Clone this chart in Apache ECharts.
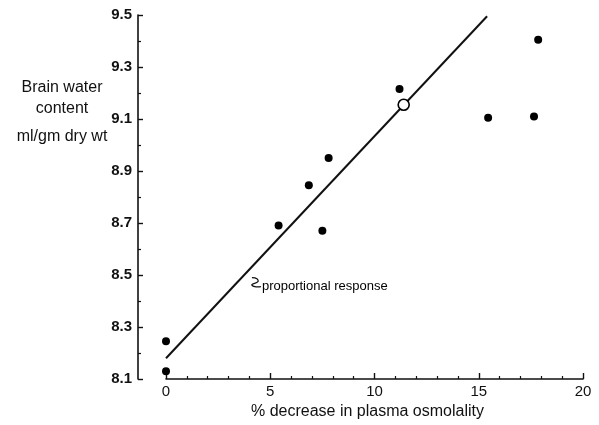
<!DOCTYPE html>
<html>
<head>
<meta charset="utf-8">
<script src="https://cdn.jsdelivr.net/npm/echarts@6/dist/echarts.min.js"></script>
<style>html,body{margin:0;padding:0;background:#fff;}#c{width:599px;height:425px;}</style>
</head>
<body>
<div id="c"></div>
<script>
// Data
const observed = [
  [0, 8.13], [0, 8.245], [5.4, 8.69], [7.5, 8.67], [6.85, 8.845],
  [7.8, 8.95], [11.2, 9.215], [15.45, 9.105], [17.65, 9.11], [17.85, 9.405]
];
const openPoint = [[11.4, 9.155]];
const proportionalLine = [[0, 8.18], [15.4, 9.495]];
const xTicks = [0, 5, 10, 15, 20];
const yTicks = [8.1, 8.3, 8.5, 8.7, 8.9, 9.1, 9.3, 9.5];
const yTitleLines = ['Brain water', 'content', 'ml/gm dry wt'];
const xTitle = '% decrease in plasma osmolality';
const annotation = { x: 4.6, y: 8.455, text: 'proportional response' };

const font = '"Liberation Sans", Arial, sans-serif';
const chart = echarts.init(document.getElementById('c'), null, { renderer: 'canvas' });

const option = {
  backgroundColor: '#fff',
  animation: false,
  grid: { left: 166, right: 16, top: 15, bottom: 46 },
  xAxis: {
    type: 'value', min: xTicks[0], max: xTicks[xTicks.length - 1], interval: 5,
    name: xTitle, nameLocation: 'middle', nameGap: 24,
    nameTextStyle: { fontFamily: font, fontSize: 16, color: '#111', padding: [0, 14, 0, 0] },
    axisLine: { show: true, onZero: false, lineStyle: { color: '#111', width: 1.6 } },
    axisTick: { show: true, inside: true, length: 6, lineStyle: { color: '#111', width: 1.4 } },
    minorTick: { show: true, splitNumber: 5, length: 3, lineStyle: { color: '#111', width: 1.2 } },
    axisLabel: { fontFamily: font, fontSize: 15, color: '#111', margin: 5,
      formatter: v => xTicks.includes(v) ? String(v) : '' },
    splitLine: { show: false }
  },
  yAxis: {
    type: 'value', min: 8.1, max: 9.5, interval: 0.2, offset: 28,
    axisLine: { show: true, onZero: false, lineStyle: { color: '#111', width: 1.6 } },
    axisTick: { show: true, inside: true, length: 5, lineStyle: { color: '#111', width: 1.4 } },
    minorTick: { show: true, splitNumber: 2, length: 3, lineStyle: { color: '#111', width: 1.2 } },
    axisLabel: { fontFamily: font, fontSize: 15, fontWeight: 'bold', color: '#111', margin: 6,
      formatter: v => { const t = yTicks.find(k => Math.abs(k - v) < 1e-6); return t !== undefined ? t.toFixed(1) : ''; } },
    splitLine: { show: false }
  },
  series: [
    {
      type: 'line', data: proportionalLine, symbol: 'none', silent: true,
      lineStyle: { color: '#111', width: 2 }, z: 2
    },
    {
      type: 'scatter', data: observed, symbol: 'circle', symbolSize: 8,
      itemStyle: { color: '#000', opacity: 1 }, z: 3
    },
    {
      type: 'scatter', data: openPoint, symbol: 'circle', symbolSize: 11,
      itemStyle: { color: '#fff', borderColor: '#000', borderWidth: 1.6, opacity: 1 }, z: 4
    },
    {
      type: 'scatter', data: [[annotation.x, annotation.y]], symbolSize: 0, silent: true,
      itemStyle: { opacity: 1 },
      label: { show: true, position: 'right', distance: 0, formatter: annotation.text,
        fontFamily: font, fontSize: 13, color: '#000' }, z: 5
    }
  ]
};
chart.setOption(option);

// annotation squiggle and y-axis title placed relative to data coordinates
const p = chart.convertToPixel({ gridIndex: 0 }, [annotation.x, annotation.y]);
const sx = p[0], sy = p[1];
chart.setOption({
  graphic: [
    {
      type: 'polyline', silent: true,
      shape: { points: [[sx - 10, sy - 9], [sx - 5, sy - 8], [sx - 4, sy - 5], [sx - 10, sy - 2], [sx - 7, sy], [sx - 1, sy]], smooth: 0.4 },
      style: { stroke: '#111', lineWidth: 1.3, fill: null }
    },
    { type: 'text', x: 62, y: 80, style: { text: yTitleLines[0], font: '16px ' + font, fill: '#111', align: 'center' }, silent: true },
    { type: 'text', x: 62, y: 101, style: { text: yTitleLines[1], font: '16px ' + font, fill: '#111', align: 'center' }, silent: true },
    { type: 'text', x: 62, y: 129, style: { text: yTitleLines[2], font: '16px ' + font, fill: '#111', align: 'center' }, silent: true }
  ]
});
</script>
</body>
</html>
